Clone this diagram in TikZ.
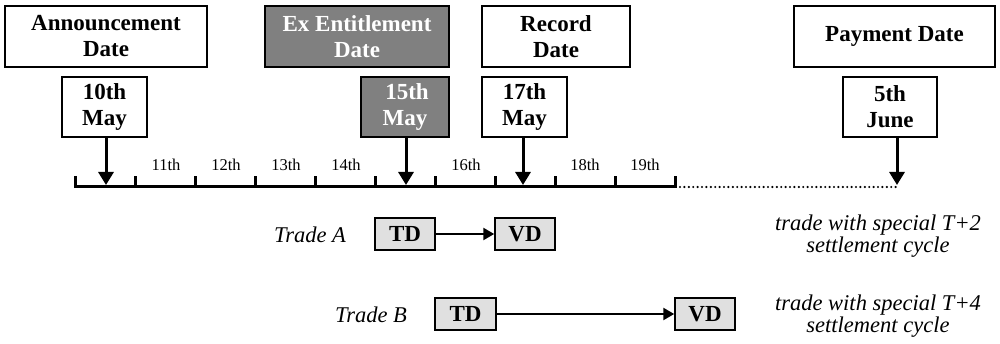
\documentclass[tikz,border=0pt]{standalone}
\usepackage{fontspec}
\setmainfont{Liberation Serif}
\usetikzlibrary{arrows.meta}
\definecolor{darkbox}{HTML}{808080}
\definecolor{lightbox}{HTML}{E0E0E0}
\begin{document}
\begin{tikzpicture}[x=1pt,y=-1pt,
  datebox/.style={draw, line width=2pt, inner sep=0pt, align=center,
    font=\fontsize{23}{26}\selectfont\bfseries, minimum height=61pt},
  dark/.style={fill=darkbox, text=white},
  tdbox/.style={draw, line width=1.5pt, fill=lightbox, inner sep=0pt,
    minimum width=60pt, minimum height=32pt, font=\fontsize{23}{26}\selectfont\bfseries},
  ptr/.style={line width=3pt, -{Triangle[length=13pt,width=15pt]}},
  tptr/.style={line width=2.5pt, -{Triangle[length=11pt,width=12pt]}},
  daylbl/.style={font=\fontsize{16.5}{18}\selectfont, inner sep=0pt},
  tradelbl/.style={font=\fontsize{22.5}{26}\selectfont\itshape, inner sep=0pt},
  notelbl/.style={font=\fontsize{22.5}{22}\selectfont\itshape, inner sep=0pt, align=center},
  axis/.style={line width=3pt}
]
\useasboundingbox (0,0) rectangle (1000,344);

% header boxes
\node[datebox, minimum width=202pt] (ann) at (106,36.5) {Announcement\\Date};
\node[datebox, dark, minimum width=184pt] (exd) at (357,36.5) {Ex Entitlement\\Date};
\node[datebox, minimum width=148pt] (rec) at (556,36.5) {Record\\Date};
\node[datebox, minimum width=201pt] (pay) at (894.5,36.5) {Payment Date};

% date boxes
\node[datebox, minimum width=85pt, minimum height=60pt] (d10) at (104.5,107) {10th\\May};
\node[datebox, dark, minimum width=88pt, minimum height=60pt] (d15) at (405,107) {\hspace{4pt}15th\\May};
\node[datebox, minimum width=85pt, minimum height=60pt] (d17) at (524.5,107) {17th\\May};
\node[datebox, minimum width=94pt, minimum height=60pt] (d5) at (890,107) {5th\\June};

% arrow targets on the timeline
\coordinate (t10) at (106,185);
\coordinate (t15) at (406,185);
\coordinate (t17) at (523,185);
\coordinate (t5) at (897,185);
\coordinate (tlA) at (75,187);
\coordinate (tlB) at (675,187);
\coordinate (dotB) at (897,187);

% timeline
\draw[axis] (75,176) -- (tlA) -- (tlB) -- (675,176);
\foreach \x in {135,195,...,615} \draw[axis] (\x,187) -- (\x,176);
\draw[line width=2.4pt, line cap=round, dash pattern=on 0pt off 4.4pt] (680,187) -- (dotB);

% day labels
\foreach \x/\t in {166/11th,226/12th,286/13th,346/14th,466/16th,585/18th,645/19th}
  \node[daylbl] (day\t) at (\x,165) {\t};

% pointer arrows
\draw[ptr] (d10.south -| t10) -- (t10);
\draw[ptr] (d15.south -| t15) -- (t15);
\draw[ptr] (d17.south -| t17) -- (t17);
\draw[ptr] (d5.south -| t5) -- (t5);

% trades
\node[tradelbl] (trA) at (310,235) {Trade A};
\node[tdbox] (tdA) at (405,234) {TD};
\node[tdbox] (vdA) at (525,234) {VD};
\draw[tptr] (tdA) -- (vdA);

\node[tradelbl] (trB) at (371,315) {Trade B};
\node[tdbox, minimum width=61pt] (tdB) at (465.5,314) {TD};
\node[tdbox] (vdB) at (705,314) {VD};
\draw[tptr] (tdB) -- (vdB);

\node[notelbl] (noteA) at (878,236) {trade with special T+2\\settlement cycle};
\node[notelbl] (noteB) at (878,316) {trade with special T+4\\settlement cycle};
\end{tikzpicture}
\end{document}
